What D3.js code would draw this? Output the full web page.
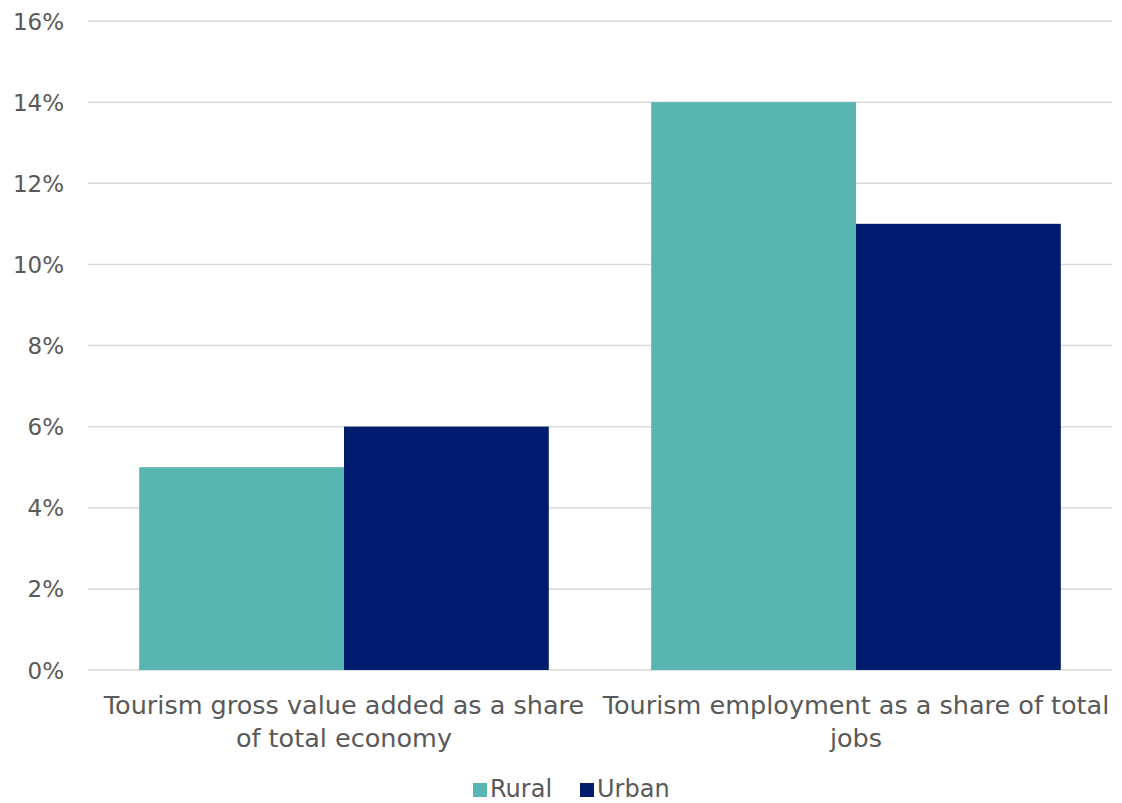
<!DOCTYPE html>
<html><head><meta charset="utf-8">
<script src="https://cdn.jsdelivr.net/npm/d3@7"></script>
<style>
html,body{margin:0;padding:0;background:#fff;}
text{font-family:"DejaVu Sans",sans-serif;fill:#595959;}
</style></head>
<body><svg id="c" width="1122" height="803"></svg>
<script>
const categories = [["Tourism gross value added as a share","of total economy"],["Tourism employment as a share of total","jobs"]];
const seriesNames = ["Rural","Urban"];
const rural = [0.05, 0.14];
const urban = [0.06, 0.11];
const yTicks = [0,0.02,0.04,0.06,0.08,0.10,0.12,0.14,0.16];
const colors = ["#59B5B1","#001C6E"];

const svg = d3.select("#c");
const m = {l:88, r:10, t:21, b:133};
const W = 1122, H = 803;
const x0 = d3.scaleBand().domain([0,1]).range([m.l, W-m.r]).paddingInner(0.2).paddingOuter(0.1);
const x1 = d3.scaleBand().domain(seriesNames).range([0, x0.bandwidth()]);
const y = d3.scaleLinear().domain([0,0.16]).range([H-m.b, m.t]);

svg.append("g").selectAll("line").data(yTicks).join("line")
  .attr("x1", m.l).attr("x2", W-m.r)
  .attr("y1", d=>y(d)).attr("y2", d=>y(d))
  .attr("stroke","#d9d9d9").attr("stroke-width",1.5);

const yAxis = d3.axisLeft(y).tickValues(yTicks).tickFormat(d3.format(".0%")).tickSize(0).tickPadding(24);
const ga = svg.append("g").attr("transform",`translate(${m.l},0)`).call(yAxis);
ga.select(".domain").remove();
ga.selectAll("text").style("font-size","23px").attr("fill","#595959").attr("dy","0.35em").attr("font-family",null);

const data = [rural, urban];
const g = svg.append("g");
seriesNames.forEach((s,si)=>{
  g.selectAll(".b"+si).data(data[si]).join("rect")
   .attr("x",(d,i)=>x0(i)+x1(s))
   .attr("width",x1.bandwidth())
   .attr("y",d=>y(d))
   .attr("height",d=>y(0)-y(d))
   .attr("fill",colors[si]);
});

categories.forEach((lines,i)=>{
  const cx = x0(i)+x0.bandwidth()/2;
  const t = svg.append("text").attr("text-anchor","middle").style("font-size","25.5px")
    .attr("x", cx).attr("y", 714);
  lines.forEach((l,j)=>t.append("tspan").attr("x",cx).attr("dy", j===0?0:33).text(l));
});

const lg = svg.append("g");
const legX = [473, 580];
seriesNames.forEach((s,i)=>{
  lg.append("rect").attr("x",legX[i]).attr("y",783).attr("width",14).attr("height",14).attr("fill",colors[i]);
  lg.append("text").attr("x",legX[i]+17).attr("y",797).style("font-size","24px").text(s);
});
</script></body></html>
